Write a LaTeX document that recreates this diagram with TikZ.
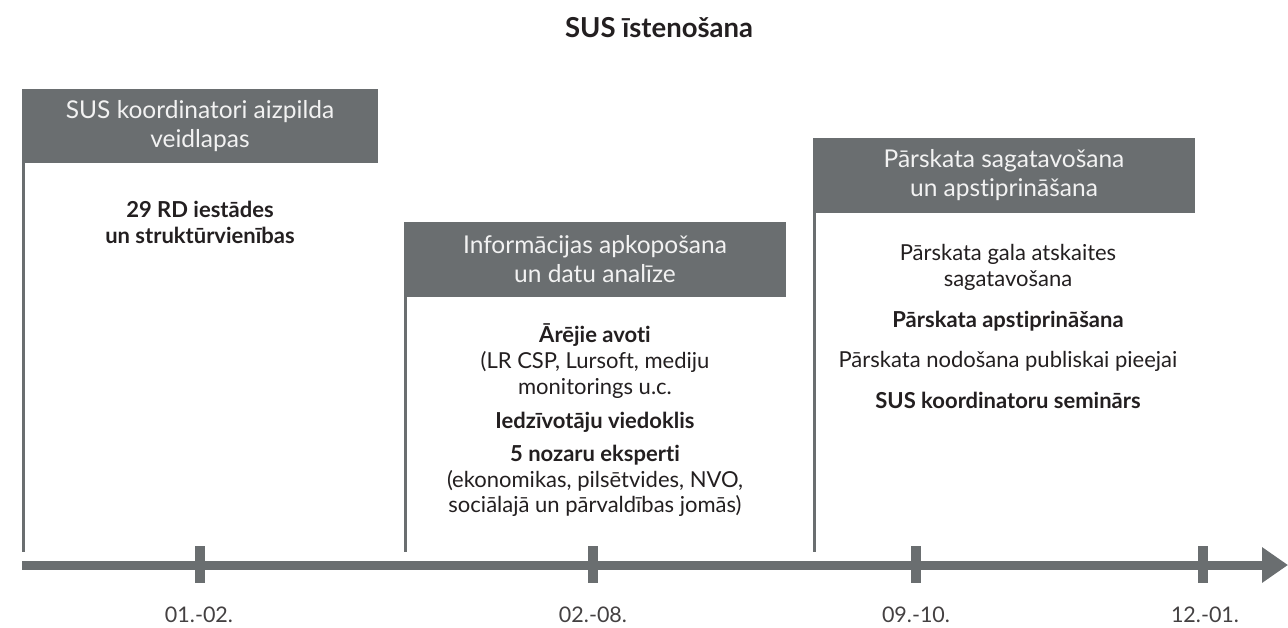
\documentclass[tikz,border=0pt]{standalone}
\usepackage{fontspec}
\setmainfont{Lato}[Ligatures=NoCommon]
\usetikzlibrary{arrows.meta}
\definecolor{bargray}{HTML}{6A6E70}
\definecolor{txt}{HTML}{231F20}
\definecolor{hdtxt}{HTML}{F2F2F2}
\begin{document}
\begin{tikzpicture}[x=1pt,y=-1pt,
  hdr/.style={fill=bargray,text=hdtxt,inner sep=0pt,align=center,font=\fontsize{24.5}{29}\selectfont},
  body/.style={text=txt,anchor=base,inner sep=0pt,font=\fontsize{22}{25}\selectfont},
  bbody/.style={body,font=\fontsize{22}{25}\selectfont\bfseries},
  vline/.style={draw=bargray,line width=3pt},
  tick/.style={draw=bargray,line width=10pt},
  lab/.style={text=txt!85,anchor=base,inner sep=0pt,font=\fontsize{21.5}{24}\selectfont}]
\useasboundingbox[fill=white] (0,0) rectangle (1288,627);
\node[anchor=base,text=txt,font=\fontsize{27.5}{30}\selectfont\bfseries] (title) at (659,37) {SUS īstenošana};
% headers
\node[hdr,minimum width=356pt,minimum height=74pt] (h1) at (200,126) {SUS koordinatori aizpilda\\veidlapas};
\node[hdr,minimum width=382pt,minimum height=75pt] (h2) at (595,259.5) {Informācijas apkopošana\\un datu analīze};
\node[hdr,minimum width=382pt,minimum height=75pt] (h3) at (1004,175) {Pārskata sagatavošana\\un apstiprināšana};
% axis
\coordinate (a0) at (22,565);
\coordinate (a1) at (1288,565);
\draw[draw=bargray,line width=9pt,-{Triangle[length=26pt,width=34pt]}] (a0) -- (a1);
% vertical lines
\coordinate (v1) at (24,552);
\coordinate (v2) at (405,552);
\coordinate (v3) at (814.5,552);
\draw[vline] (h1.south west) ++(2,0) coordinate (v1t) -- (v1t |- v1);
\draw[vline] (h2.south west) ++(1.5,0) coordinate (v2t) -- (v2t |- v2);
\draw[vline] (h3.south west) ++(1.5,0) coordinate (v3t) -- (v3t |- v3);
% ticks
\foreach \n/\x in {t1/200,t2/593,t3/916,t4/1203}{
  \coordinate (\n a) at (\x,546);
  \coordinate (\n b) at (\x,583);
  \draw[tick] (\n a) -- (\n b);
}
\node[lab] (l1) at (199,622) {01.-02.};
\node[lab] (l2) at (593,622) {02.-08.};
\node[lab] (l3) at (916,622) {09.-10.};
\node[lab] (l4) at (1205,622) {12.-01.};
% body 1
\node[bbody] (b11) at (200,217) {29 RD iestādes};
\node[bbody] (b12) at (200,243) {un struktūrvienības};
% body 2
\node[bbody] (b21) at (595,342) {Ārējie avoti};
\node[body] (b22) at (595,368) {(LR CSP, Lursoft, mediju};
\node[body] (b23) at (595,394) {monitorings u.c.};
\node[bbody] (b24) at (595,428) {Iedzīvotāju viedoklis};
\node[bbody] (b25) at (595,461) {5 nozaru eksperti};
\node[body] (b26) at (595,487) {(ekonomikas, pilsētvides, NVO,};
\node[body] (b27) at (595,512) {sociālajā un pārvaldības jomās)};
% body 3
\node[body] (b31) at (1008,260) {Pārskata gala atskaites};
\node[body] (b32) at (1008,286) {sagatavošana};
\node[bbody] (b33) at (1008,327) {Pārskata apstiprināšana};
\node[body] (b34) at (1008,367) {Pārskata nodošana publiskai pieejai};
\node[bbody] (b35) at (1008,408) {SUS koordinatoru seminārs};
\end{tikzpicture}
\end{document}
